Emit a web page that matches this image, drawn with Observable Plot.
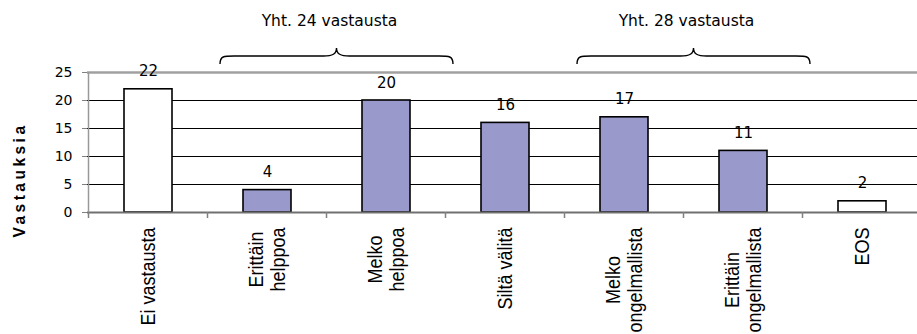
<!DOCTYPE html>
<html lang="fi">
<head>
<meta charset="utf-8">
<script src="https://cdn.jsdelivr.net/npm/d3@7"></script>
<script src="https://cdn.jsdelivr.net/npm/@observablehq/plot@0.6"></script>
<style>
  html, body { margin: 0; padding: 0; background: #fff; }
  #chart svg { display: block; }
</style>
</head>
<body>
<div id="chart"></div>
<script>
// Vastausten jakauma luokittain
const kategoriat = ["Ei vastausta", "Erittäin helppoa", "Melko helppoa", "Siltä välitä", "Melko ongelmallista", "Erittäin ongelmallista", "EOS"];
const luokkaRivit = [["Ei vastausta"], ["Erittäin", "helppoa"], ["Melko", "helppoa"], ["Siltä välitä"], ["Melko", "ongelmallista"], ["Erittäin", "ongelmallista"], ["EOS"]];
const vastaukset = [22, 4, 20, 16, 17, 11, 2];
const ilmanKantaa = ["Ei vastausta", "EOS"];   // piirretään täyttämättöminä
const yTikit = [0, 5, 10, 15, 20, 25];
const yOtsikko = "Vastauksia";

// Yhteenvetosulkeet luokkaparien yllä
const ryhmaOtsikot = ["Yht. 24 vastausta", "Yht. 28 vastausta"];
const ryhmaAlku = ["Erittäin helppoa", "Melko ongelmallista"];
const ryhmaLoppu = ["Melko helppoa", "Erittäin ongelmallista"];

const data = kategoriat.map((k, i) => ({ kategoria: k, arvo: vastaukset[i] }));

const SVGNS = "http://www.w3.org/2000/svg";
function el(name, attrs = {}, text) {
  const n = document.createElementNS(SVGNS, name);
  for (const [k, v] of Object.entries(attrs)) n.setAttribute(k, v);
  if (text != null) n.textContent = text;
  return n;
}

const luokkaFontti = "'Liberation Sans', Arial, sans-serif";
const luokkaKoko = 18;
const venytys = 1.11;          // kiertyneiden tekstien leveyssuhde
const rivivali = 19.8;
const mittari = document.createElement("canvas").getContext("2d");
mittari.font = `${luokkaKoko}px 'Liberation Sans'`;

// Akselin viivat, luokkien väliviivat, kiertyneet luokkanimet, akselin otsikko ja sulkeet
function koristeet(index, scales) {
  const { x, y } = scales;
  const bw = typeof x.bandwidth === "function" ? x.bandwidth() : x.bandwidth;
  const step = x(kategoriat[1]) - x(kategoriat[0]);
  const gap = (step - bw) / 2;
  const y0 = y(0), yTop = y(25);
  const g = el("g");

  // pystyakselin viiva
  const x0 = x(kategoriat[0]) - gap;
  g.appendChild(el("line", { x1: x0, x2: x0, y1: yTop, y2: y0, stroke: "#999", "stroke-width": 1.5 }));

  // väliviivat luokkien välissä
  kategoriat.forEach(k => {
    const bx = x(k) - gap;
    g.appendChild(el("line", { x1: bx, x2: bx, y1: y0, y2: y0 + 6, stroke: "#808080", "stroke-width": 1.5 }));
  });

  // luokkien nimet pystyssä, rivit keskitettyinä
  const puoliKorkeus = luokkaKoko * 0.716 / 2;
  luokkaRivit.forEach((rivit, i) => {
    const cx = x(kategoriat[i]) + bw / 2;
    const W = Math.max(...rivit.map(r => mittari.measureText(r).width));
    const t = el("text", {
      transform: `translate(${cx},${y0 + 15.5}) rotate(-90) scale(1,${venytys})`,
      "text-anchor": "middle", "font-family": luokkaFontti, "font-size": luokkaKoko, fill: "#000"
    });
    rivit.forEach((r, j) => {
      t.appendChild(el("tspan", { x: -W / 2, y: (j - (rivit.length - 1) / 2) * rivivali + puoliKorkeus }, r));
    });
    g.appendChild(t);
  });

  // pystyakselin otsikko
  g.appendChild(el("text", {
    transform: `translate(25,${y0 - 32}) rotate(-90) scale(1,${venytys})`,
    "text-anchor": "middle", "font-family": luokkaFontti, "font-size": 15.5,
    "font-weight": "bold", "letter-spacing": 3.5, fill: "#000"
  }, yOtsikko));

  // sulkeet ja niiden otsikot
  const yEnd = yTop - 8, yFlat = yTop - 16, yPeak = yTop - 24;
  ryhmaOtsikot.forEach((otsikko, k) => {
    const a = x(ryhmaAlku[k]);
    const b = x(ryhmaLoppu[k]) + bw;
    const mid = (a + b) / 2;
    const xa = a - 23, xb = b + 43, xc = (xa + xb) / 2;
    const d = `M${xa},${yEnd} C${xa},${yFlat} ${xa + 4},${yFlat} ${xa + 14},${yFlat}`
      + ` L${xc - 13},${yFlat} C${xc - 4},${yFlat} ${xc},${yFlat - 2} ${xc},${yPeak}`
      + ` C${xc},${yFlat - 2} ${xc + 4},${yFlat} ${xc + 13},${yFlat}`
      + ` L${xb - 14},${yFlat} C${xb - 4},${yFlat} ${xb},${yFlat} ${xb},${yEnd}`;
    g.appendChild(el("path", { d, fill: "none", stroke: "#000", "stroke-width": 1.4 }));
    g.appendChild(el("text", {
      x: mid + 3, y: yTop - 46, "text-anchor": "middle",
      "font-family": "'DejaVu Sans', sans-serif", "font-size": 15.5, fill: "#000"
    }, otsikko));
  });
  return g;
}

const chart = Plot.plot({
  width: 917,
  height: 334,
  marginLeft: 87,
  marginRight: 0,
  marginTop: 72,
  marginBottom: 122,
  style: { fontFamily: "'DejaVu Sans', sans-serif", fontSize: "14px", background: "#fff", color: "#000", overflow: "visible" },
  x: { type: "band", domain: kategoriat, range: [87, 923.5], paddingInner: 0.6, paddingOuter: 0.3, axis: null },
  y: { domain: [0, 25], axis: null },
  color: { type: "identity" },
  marks: [
    Plot.ruleY(yTikit.filter(t => t > 0 && t < 25), { stroke: "#000", strokeWidth: 1 }),
    Plot.ruleY([25], { stroke: "#a0a0a0", strokeWidth: 2.5 }),
    Plot.barY(data, {
      x: "kategoria", y: "arvo",
      fill: d => ilmanKantaa.includes(d.kategoria) ? "#ffffff" : "#9999cc",
      stroke: "#000", strokeWidth: 1.6
    }),
    Plot.ruleY([0], { stroke: "#707070", strokeWidth: 2 }),
    Plot.axisY({ ticks: yTikit, tickSize: 5, tickPadding: 10, stroke: "#808080", fill: "#000", fontSize: 14, label: null, tickFormat: d => String(d) }),
    Plot.text(data, { x: "kategoria", y: "arvo", text: d => String(d.arvo), lineAnchor: "bottom", dy: -13, fontSize: 15, fill: "#000" }),
    koristeet
  ]
});

document.getElementById("chart").appendChild(chart);
</script>
</body>
</html>
